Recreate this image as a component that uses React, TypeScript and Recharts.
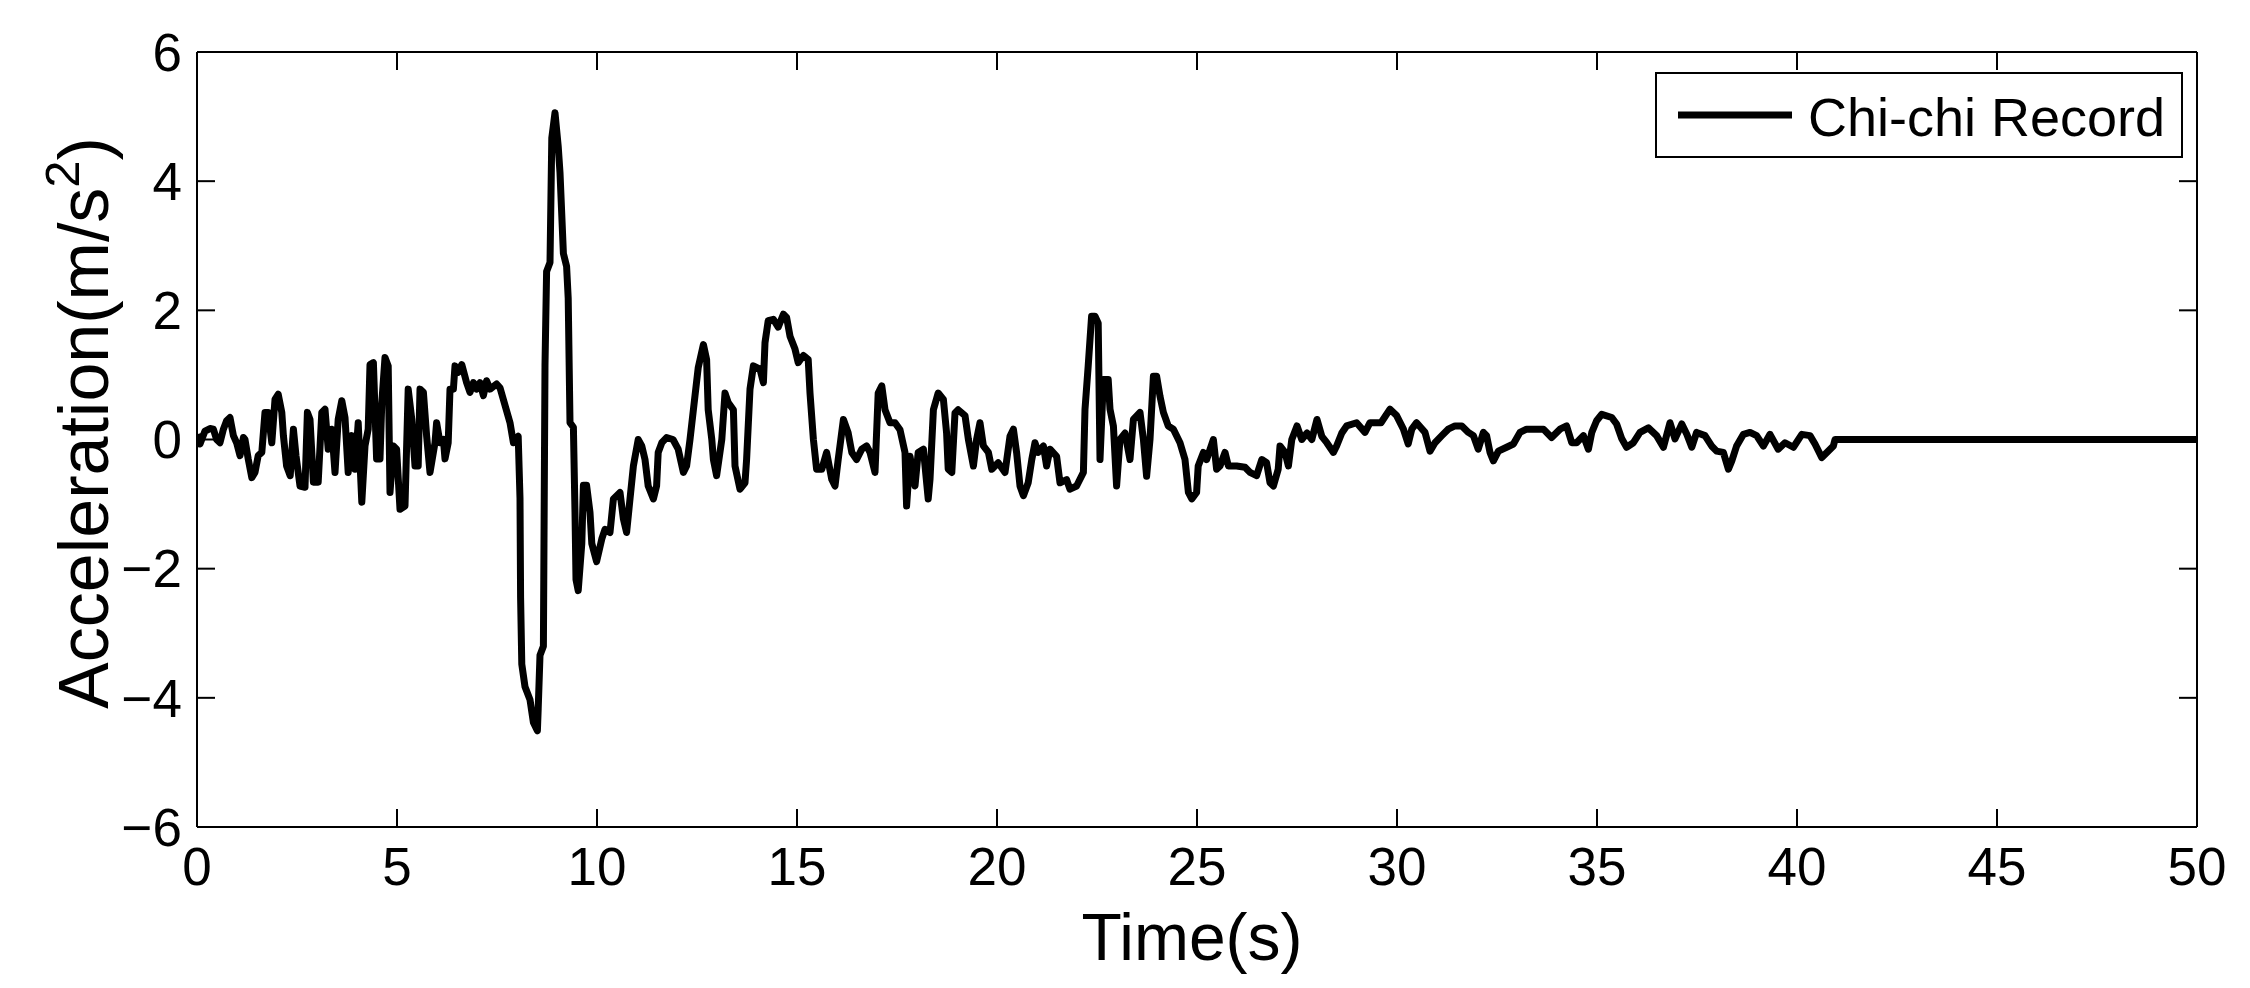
import React from 'react';
import { LineChart, Line, XAxis, YAxis, Legend, ReferenceLine } from 'recharts';

// time (s) and acceleration (m/s^2)
const timeS = [
  0, 0.075, 0.2, 0.325, 0.41, 0.49, 0.575, 0.66, 0.74, 0.825, 0.91, 0.99, 1.075, 1.16, 1.2, 1.28, 1.37, 1.45, 1.53, 1.62,
  1.7, 1.78, 1.87, 1.95, 2.03, 2.12, 2.16, 2.24, 2.33, 2.41, 2.475, 2.575, 2.7, 2.76, 2.825, 2.91, 3.03, 3.12, 3.2, 3.28,
  3.37, 3.45, 3.53, 3.62, 3.7, 3.78, 3.87, 3.95, 4.03, 4.12, 4.2, 4.28, 4.325, 4.41, 4.49, 4.575, 4.62, 4.7, 4.78, 4.825,
  4.91, 4.99, 5.075, 5.2, 5.28, 5.37, 5.45, 5.53, 5.575, 5.66, 5.74, 5.825, 5.95, 5.99, 6.075, 6.16, 6.2, 6.28, 6.325, 6.41,
  6.45, 6.53, 6.62, 6.74, 6.825, 6.91, 6.99, 7.075, 7.16, 7.24, 7.325, 7.49, 7.575, 7.7, 7.825, 7.91, 8.03,
  8.075, 8.09, 8.12, 8.2, 8.325, 8.41, 8.51, 8.53, 8.575, 8.66, 8.7, 8.74, 8.825, 8.87, 8.95, 9.03, 9.075, 9.16, 9.24, 9.28,
  9.325, 9.41, 9.45, 9.475, 9.53, 9.62, 9.66, 9.74, 9.825, 9.87, 9.99,
  10.12, 10.2, 10.325, 10.41, 10.575, 10.66, 10.74, 10.825, 10.91, 11.03, 11.12, 11.2, 11.28, 11.41, 11.49, 11.53, 11.62,
  11.74, 11.9, 12.03, 12.16, 12.24, 12.325, 12.45, 12.53, 12.66, 12.74, 12.78, 12.87, 12.91, 12.99, 13.12, 13.2, 13.28,
  13.41, 13.45, 13.575, 13.7, 13.74, 13.825, 13.91, 14.075, 14.16, 14.2, 14.28, 14.41, 14.53, 14.66, 14.74, 14.825, 14.95,
  15.03, 15.16, 15.28, 15.325, 15.41, 15.49, 15.62, 15.74, 15.87, 15.95, 16.03, 16.16, 16.28, 16.37, 16.49, 16.62, 16.74,
  16.825, 16.95, 17.03, 17.12, 17.2, 17.325, 17.45, 17.575, 17.7, 17.74, 17.825, 17.95, 18.03, 18.16, 18.28, 18.325, 18.41,
  18.53, 18.66, 18.74, 18.78, 18.87, 18.95, 19.03, 19.2, 19.285, 19.41, 19.49, 19.575,
  19.66, 19.785, 19.87, 20.03, 20.2, 20.325, 20.41, 20.49, 20.575, 20.66, 20.78, 20.87, 20.95, 21.03, 21.16, 21.24, 21.325,
  21.49, 21.575, 21.74, 21.825, 21.99, 22.16, 22.2, 22.28, 22.365, 22.45, 22.53, 22.575, 22.66, 22.78, 22.825, 22.91, 22.99,
  23.075, 23.2, 23.325, 23.41, 23.575, 23.66, 23.74, 23.825, 23.91, 23.99, 24.075, 24.16, 24.28, 24.41, 24.575, 24.7,
  24.785, 24.87, 24.99, 25.03, 25.16, 25.24, 25.41, 25.49, 25.575, 25.7, 25.785, 25.99, 26.2, 26.325, 26.49, 26.62, 26.74,
  26.825, 26.91, 27.03, 27.075, 27.2, 27.285, 27.37, 27.5, 27.62, 27.75, 27.87, 28.0, 28.12, 28.245, 28.41, 28.49, 28.62,
  28.74, 28.99, 29.2, 29.325, 29.6, 29.825, 29.99, 30.16, 30.28, 30.37, 30.49, 30.7, 30.825, 30.95, 31.12, 31.28, 31.45,
  31.62, 31.785, 31.91, 32.03, 32.16, 32.24, 32.325, 32.41, 32.535, 32.74, 32.91, 33.075, 33.24, 33.66, 33.865, 34.075,
  34.24, 34.37, 34.49, 34.66, 34.785, 34.87, 34.99, 35.12, 35.37, 35.49, 35.62, 35.74, 35.91, 36.075, 36.285, 36.49, 36.66,
  36.825, 36.95, 37.12, 37.245, 37.37, 37.49, 37.7, 37.865, 37.99, 38.16, 38.285, 38.37, 38.49, 38.66, 38.825, 38.99,
  39.16, 39.325, 39.53, 39.7, 39.91, 40.12, 40.325, 40.45, 40.62, 40.91, 40.95, 50,
];

const accel = [
  0.08, -0.07, 0.13, 0.17, 0.16, 0.0, -0.05, 0.16, 0.29, 0.34, 0.06, -0.05, -0.25, 0.03, 0.0, -0.3, -0.59, -0.51, -0.25, -0.2,
  0.42, 0.42, -0.05, 0.62, 0.7, 0.42, 0.06, -0.41, -0.56, 0.16, -0.25, -0.72, -0.74, 0.42, 0.31, -0.66, -0.66, 0.42, 0.47, -0.15,
  0.16, -0.51, 0.31, 0.6, 0.34, -0.51, 0.06, -0.46, 0.26, -0.97, -0.1, 0.16, 1.16, 1.19, -0.3, -0.3, 0.57, 1.27, 1.14, -0.82,
  -0.1, -0.15, -1.08, -1.03, 0.78, 0.31, -0.41, -0.41, 0.78, 0.73, 0.06, -0.51, -0.05, 0.26, -0.05, 0.0, -0.3, -0.05, 0.78, 0.78,
  1.14, 1.04, 1.16, 0.88, 0.73, 0.88, 0.78, 0.88, 0.68, 0.91, 0.78, 0.86, 0.8, 0.53, 0.26, -0.05, 0.05,
  -0.91, -2.45, -3.48, -3.83, -4.03, -4.38, -4.51, -4.17, -3.34, -3.2, 1.15, 2.6, 2.74, 4.67, 5.06, 4.54, 4.13, 2.88, 2.68, 2.19,
  0.26, 0.19, -1.13, -2.17, -2.34, -1.61, -0.71, -0.71, -1.13, -1.61, -1.89,
  -1.54, -1.39, -1.44, -0.92, -0.82, -1.23, -1.44, -0.92, -0.41, 0.0, -0.1, -0.31, -0.72, -0.92, -0.72, -0.2, -0.05,
  0.03, 0.0, -0.15, -0.51, -0.41, 0.0, 0.68, 1.11, 1.47, 1.24, 0.46, 0.0, -0.31, -0.56, 0.0, 0.72, 0.57,
  0.46, -0.41, -0.77, -0.67, -0.31, 0.78, 1.14, 1.09, 0.88, 1.5, 1.84, 1.86, 1.74, 1.94, 1.89, 1.6, 1.4,
  1.19, 1.3, 1.24, 0.72, 0.0, -0.46, -0.46, -0.2, -0.62, -0.72, -0.31, 0.31, 0.1, -0.2, -0.31, -0.15, -0.1,
  -0.2, -0.51, 0.72, 0.83, 0.46, 0.26, 0.26, 0.15, -0.2, -1.03, -0.26, -0.72, -0.2, -0.15, -0.92, -0.62, 0.46,
  0.72, 0.62, 0.1, -0.46, -0.51, 0.41, 0.46, 0.37, 0.0, -0.41, 0.0, 0.26,
  -0.1, -0.2, -0.46, -0.36, -0.51, 0.05, 0.16, -0.2, -0.72, -0.87, -0.67, -0.31, -0.05, -0.2, -0.1, -0.41, -0.15,
  -0.26, -0.67, -0.62, -0.77, -0.72, -0.51, 0.47, 1.14, 1.91, 1.91, 1.8, -0.31, 0.93, 0.93, 0.47, 0.21, -0.72,
  0.0, 0.1, -0.31, 0.31, 0.42, 0.0, -0.57, 0.0, 0.98, 0.98, 0.67, 0.42, 0.21, 0.16, -0.05, -0.31,
  -0.82, -0.92, -0.82, -0.41, -0.2, -0.31, 0.0, -0.46, -0.41, -0.2, -0.41, -0.41, -0.43, -0.51, -0.56, -0.31, -0.36,
  -0.67, -0.72, -0.46, -0.1, -0.2, -0.41, 0.0, 0.21, 0.0, 0.1, 0.0, 0.31, 0.05, -0.05, -0.2, -0.1, 0.1,
  0.21, 0.26, 0.11, 0.26, 0.26, 0.47, 0.37, 0.16, -0.07, 0.16, 0.26, 0.11, -0.18, -0.05, 0.06, 0.16, 0.21,
  0.21, 0.11, 0.06, -0.15, 0.11, 0.06, -0.2, -0.33, -0.18, -0.12, -0.07, 0.11, 0.16, 0.16, 0.03, 0.16,
  0.21, -0.05, -0.05, 0.06, -0.15, 0.11, 0.29, 0.39, 0.34, 0.24, 0.01, -0.12, -0.05, 0.11, 0.18, 0.06, -0.12,
  0.26, 0.01, 0.24, 0.08, -0.12, 0.11, 0.06, -0.1, -0.18, -0.2, -0.46, -0.33, -0.1, 0.08, 0.11, 0.06,
  -0.1, 0.08, -0.15, -0.05, -0.12, 0.08, 0.06, -0.07, -0.28, -0.1, 0.0, 0,
];

const xTicks = [0, 5, 10, 15, 20, 25, 30, 35, 40, 45, 50];
const yTicks = [-6, -4, -2, 0, 2, 4, 6];
const seriesName = 'Chi-chi Record';

const data = timeS.map((t, i) => ({ t, a: accel[i] }));

const X_MIN = 0;
const X_MAX = 50;
const Y_MIN = -6;
const Y_MAX = 6;
// inward tick length (~18px) expressed in data units
const X_TICK_LEN = 0.279;
const Y_TICK_LEN = 0.45;

const FONT = '"Liberation Sans", Arial, Helvetica, sans-serif';
const axisLine = { stroke: '#000', strokeWidth: 2 };
const tickStyle = { fill: '#000', fontSize: 53, fontFamily: FONT };

const fmtY = (v: number) => (v < 0 ? '\u2212' + Math.abs(v) : String(v));

const XLabel = () => (
  <text x={1192} y={960} textAnchor="middle" fontFamily={FONT} fontSize={66} fill="#000">
    Time(s)
  </text>
);

const YLabel = () => (
  <text x={108} y={423} transform="rotate(-90 108 423)" textAnchor="middle" fontFamily={FONT} fontSize={70} fill="#000">
    Acceleration(m/s
    <tspan dy={-29} fontSize={49}>2</tspan>
    <tspan dy={29}>)</tspan>
  </text>
);

const LegendBox = () => (
  <svg width={528} height={86} style={{ display: 'block' }}>
    <rect x={1} y={1} width={526} height={84} fill="#fff" stroke="#000" strokeWidth={2} />
    <line x1={23} x2={137} y1={43} y2={43} stroke="#000" strokeWidth={7} />
    <text x={153} y={64} fontFamily={FONT} fontSize={54} fill="#000">
      {seriesName}
    </text>
  </svg>
);

const tickSegs = [
  ...xTicks.flatMap((x) => [
    [{ x, y: Y_MIN }, { x, y: Y_MIN + X_TICK_LEN }],
    [{ x, y: Y_MAX }, { x, y: Y_MAX - X_TICK_LEN }],
  ]),
  ...yTicks.flatMap((y) => [
    [{ x: X_MIN, y }, { x: X_MIN + Y_TICK_LEN, y }],
    [{ x: X_MAX, y }, { x: X_MAX - Y_TICK_LEN, y }],
  ]),
];

export default function App() {
  return (
    <div style={{ width: 2250, height: 988, background: '#fff' }}>
      <style>{'body{margin:0}'}</style>
      <LineChart width={2250} height={988} data={data} margin={{ top: 22, right: 23, bottom: 61, left: 77 }}>
        <XAxis
          xAxisId="b"
          dataKey="t"
          type="number"
          domain={[X_MIN, X_MAX]}
          ticks={xTicks}
          interval={0}
          allowDataOverflow
          tickSize={-18}
          tickMargin={38}
          height={100}
          axisLine={axisLine}
          tickLine={false}
          tick={tickStyle}
          label={<XLabel />}
        />
        <XAxis
          xAxisId="top"
          orientation="top"
          type="number"
          domain={[X_MIN, X_MAX]}
          ticks={xTicks}
          interval={0}
          allowDataOverflow
          height={30}
          axisLine={axisLine}
          tickLine={false}
          tick={false}
        />
        <YAxis
          yAxisId="l"
          type="number"
          domain={[Y_MIN, Y_MAX]}
          ticks={yTicks}
          interval={0}
          allowDataOverflow
          tickSize={-18}
          tickMargin={33}
          width={120}
          axisLine={axisLine}
          tickLine={false}
          tick={tickStyle}
          tickFormatter={fmtY}
          label={<YLabel />}
        />
        <YAxis
          yAxisId="r"
          orientation="right"
          type="number"
          domain={[Y_MIN, Y_MAX]}
          ticks={yTicks}
          interval={0}
          allowDataOverflow
          width={30}
          axisLine={axisLine}
          tickLine={false}
          tick={false}
        />
        {tickSegs.map((seg, i) => (
          <ReferenceLine
            key={i}
            xAxisId="b"
            yAxisId="l"
            segment={seg}
            stroke="#000"
            strokeWidth={2}
            ifOverflow="visible"
          />
        ))}
        <Line
          xAxisId="b"
          yAxisId="l"
          type="linear"
          dataKey="a"
          name={seriesName}
          stroke="#000"
          strokeWidth={7}
          strokeLinejoin="round"
          dot={false}
          activeDot={false}
          isAnimationActive={false}
        />
        <Legend
          layout="vertical"
          align="center"
          verticalAlign="middle"
          wrapperStyle={{ left: 1655, top: 72, width: 528, height: 86 }}
          content={() => <LegendBox />}
        />
      </LineChart>
    </div>
  );
}
